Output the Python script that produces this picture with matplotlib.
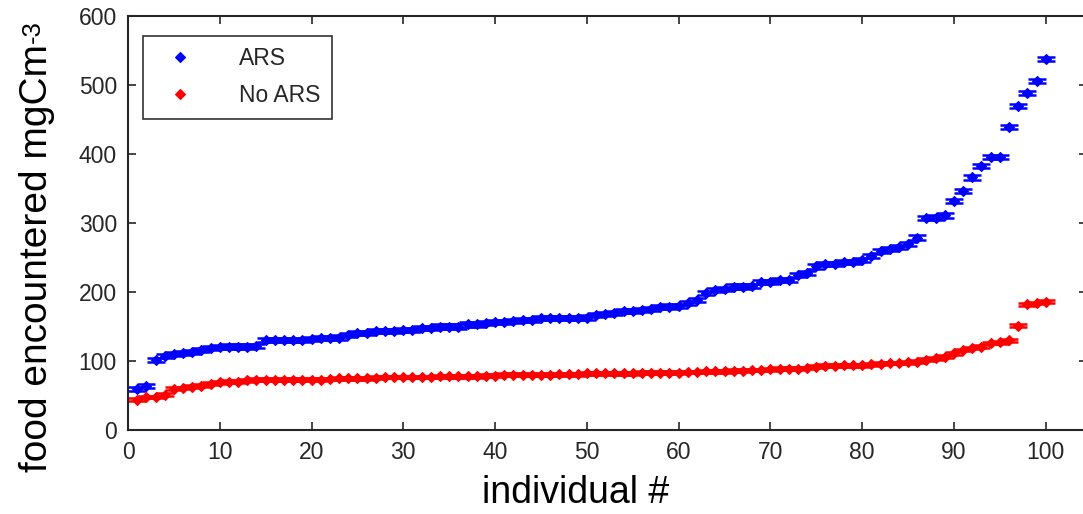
import matplotlib
matplotlib.use('Agg')
import matplotlib.pyplot as plt
import numpy as np

plt.rcParams['font.family'] = ['Liberation Sans', 'DejaVu Sans']

individual = list(range(1, 101))

ars = [60, 64, 102, 107, 110, 112, 113, 116, 119, 120,
       121, 121, 121, 122, 131, 131, 131, 131, 131, 132,
       133, 133, 134, 138, 140, 140, 143, 143, 143, 145,
       145, 148, 148, 150, 150, 150, 153, 153, 155, 157,
       157, 158, 160, 160, 162, 162, 162, 162, 162, 163,
       167, 168, 170, 172, 172, 174, 175, 178, 179, 180,
       184, 189, 199, 203, 204, 208, 208, 209, 214, 215,
       218, 218, 225, 228, 237, 240, 240, 244, 244, 247,
       252, 259, 262, 265, 269, 279, 307, 308, 311, 332,
       346, 366, 383, 396, 396, 439, 469, 488, 506, 538]

no_ars = [44, 48, 48, 51, 60, 61, 63, 64, 67, 69,
          70, 70, 72, 73, 73, 73, 73, 73, 73, 73,
          73, 74, 75, 75, 75, 75, 76, 77, 77, 77,
          77, 77, 77, 78, 78, 78, 78, 78, 79, 79,
          80, 80, 80, 80, 80, 80, 81, 81, 81, 82,
          82, 82, 82, 82, 82, 83, 83, 83, 83, 83,
          84, 84, 85, 85, 85, 86, 86, 87, 87, 88,
          89, 89, 89, 90, 92, 93, 93, 94, 94, 94,
          95, 96, 97, 97, 98, 99, 102, 104, 106, 111,
          116, 119, 121, 126, 127, 130, 151, 182, 184, 186]

ars_err = 3
no_ars_err = 2

fig = plt.figure(figsize=(10.83, 5.14), dpi=100)
ax = fig.add_axes([0.1182, 0.1634, 0.8855, 0.8054])

for ys, err, col, lab in [(ars, ars_err, '#0000ff', 'ARS'),
                          (no_ars, no_ars_err, '#ff0000', 'No ARS')]:
    ax.errorbar(individual, ys, yerr=err, fmt='none', ecolor=col,
                elinewidth=1.5, capsize=6.5, capthick=1.8)
    ax.plot(individual, ys, 'D', color=col, markersize=5.3,
            markeredgewidth=0.8, label=lab)

ax.set_xlim(0, 104.5)
ax.set_ylim(0, 600)
ax.set_xticks(range(0, 101, 10))
ax.set_yticks(range(0, 601, 100))
ax.tick_params(direction='in', length=6, width=1.2, top=True, right=True,
               labelsize=16.5, labelcolor='#262626', color='#262626')
ax.tick_params(axis='x', pad=8)
ax.tick_params(axis='y', pad=8)
for s in ax.spines.values():
    s.set_linewidth(1.5)
    s.set_color('#262626')

leg = ax.legend(loc='upper left', bbox_to_anchor=(0.0155, 0.952), borderaxespad=0,
                fontsize=16.5, frameon=True, fancybox=False, edgecolor='black',
                handlelength=2.2, handletextpad=1.5, borderpad=0.5,
                labelspacing=0.6, numpoints=1)
leg.get_frame().set_linewidth(1.2)
for t in leg.get_texts():
    t.set_color('#262626')

fig.text(576 / 1083, 1 - 493 / 514, 'individual #', fontsize=27,
         ha='center', va='center')

# y label with a small "-3" superscript placed after the main text
ylab = fig.text(37 / 1083, 1 - 258 / 514, 'food encountered mgCm', fontsize=28,
                rotation=90, ha='center', va='center')
fig.canvas.draw()
bb = ylab.get_window_extent().transformed(fig.transFigure.inverted())
fig.text(bb.x0 + 0.0015, bb.y1 + 0.002, '-3', fontsize=18.5, rotation=90,
         ha='left', va='bottom')

fig.savefig('out.png', dpi=100)
